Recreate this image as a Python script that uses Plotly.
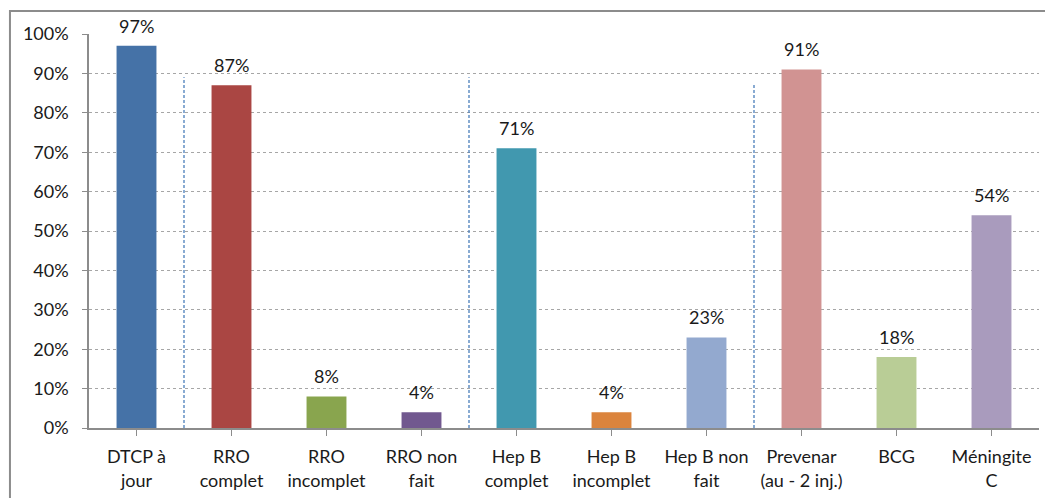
import plotly.graph_objects as go

# Vaccination coverage by vaccine / status
categories = [
    "DTCP à<br>jour",
    "RRO<br>complet",
    "RRO<br>incomplet",
    "RRO non<br>fait",
    "Hep B<br>complet",
    "Hep B<br>incomplet",
    "Hep B non<br>fait",
    "Prevenar<br>(au - 2 inj.)",
    "BCG",
    "Méningite<br>C",
]
values = [97, 87, 8, 4, 71, 4, 23, 91, 18, 54]
bar_colors = [
    "#4572A7", "#AA4643", "#89A54E", "#71588F", "#4198AF",
    "#DB843D", "#93A9CF", "#D19392", "#B9CD96", "#A99BBD",
]

# Group separators: position between categories (index units) and top height (%)
separator_positions = [0.5, 3.5, 6.5]
separator_tops = [89, 89, 87.5]

y_ticks = list(range(0, 101, 10))
y_tick_labels = [f"{v}%" for v in y_ticks]

FONT = "Lato, 'Open Sans', sans-serif"
TEXT_COLOR = "#1a1a1a"

x_idx = list(range(len(categories)))

fig = go.Figure(
    go.Bar(
        x=x_idx,
        y=values,
        marker=dict(color=bar_colors, line=dict(width=0)),
        width=0.42,
        hoverinfo="skip",
    )
)

# Value labels above each bar
for xi, v in zip(x_idx, values):
    fig.add_annotation(
        x=xi, y=v, xref="x", yref="y",
        text=f"{v}%", showarrow=False,
        yanchor="bottom", yshift=7,
        font=dict(family=FONT, size=18, color=TEXT_COLOR),
    )

shapes = []
for xp, top in zip(separator_positions, separator_tops):
    shapes.append(dict(
        type="line", xref="x", yref="y",
        x0=xp, x1=xp, y0=0, y1=top,
        line=dict(color="#4A7EBB", width=1.3, dash="3px,2px"),
        layer="above",
    ))

# Outer chart frame
shapes.append(dict(
    type="rect", xref="paper", yref="paper",
    x0=-0.0832, x1=1.03, y0=-0.35, y1=1.0584,
    line=dict(color="#8c8c8c", width=2),
    layer="below",
))

fig.update_layout(
    width=1045,
    height=498,
    margin=dict(l=89, r=6, t=34, b=70),
    paper_bgcolor="white",
    plot_bgcolor="white",
    showlegend=False,
    shapes=shapes,
    font=dict(family=FONT, size=18, color=TEXT_COLOR),
    xaxis=dict(
        tickmode="array",
        tickvals=x_idx,
        ticktext=categories,
        range=[-0.5, len(categories) - 0.5],
        showline=True,
        linecolor="#8c8c8c",
        linewidth=1.5,
        ticks="outside",
        ticklen=6,
        tickcolor="#8c8c8c",
        tickson="boundaries",
        showgrid=False,
        zeroline=False,
        tickfont=dict(family=FONT, size=18, color=TEXT_COLOR),
        ticklabelstandoff=6,
    ),
    yaxis=dict(
        range=[0, 100],
        tickvals=y_ticks,
        ticktext=y_tick_labels,
        showline=True,
        linecolor="#8c8c8c",
        linewidth=1.5,
        ticks="outside",
        ticklen=5,
        tickcolor="#8c8c8c",
        showgrid=True,
        gridcolor="#a6a6a6",
        griddash="dot",
        gridwidth=1,
        zeroline=False,
        tickfont=dict(family=FONT, size=18, color=TEXT_COLOR),
        ticklabelstandoff=10,
    ),
)

fig.write_html("out.html")
